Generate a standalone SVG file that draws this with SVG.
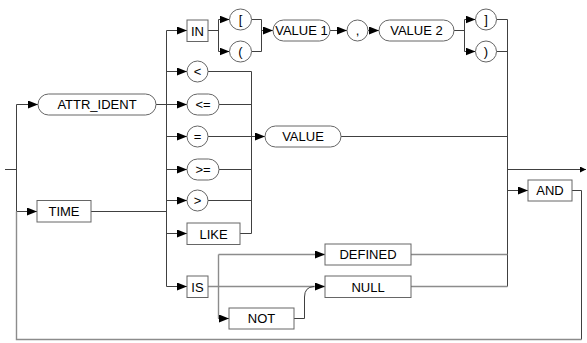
<svg xmlns="http://www.w3.org/2000/svg" width="587" height="343" viewBox="0 0 587 343">
<style>
.n{fill:#fff;stroke:#666;stroke-width:1}
.t{font-family:"Liberation Sans",Arial,sans-serif;font-size:13px;fill:#000;text-anchor:middle}
.c path{fill:none;stroke:#404040;stroke-width:1}
.c path.g{stroke:#8c8c8c;stroke-width:1.4}
.c path.a{marker-end:url(#ah)}
.c path.e{marker-end:url(#ahs)}
</style>
<defs>
<marker id="ah" viewBox="0 0 10 8" refX="10" refY="4" markerWidth="10" markerHeight="8" markerUnits="userSpaceOnUse" orient="auto">
<path d="M0,0 L10,4 L0,8 Z" fill="#000"/>
</marker>
<marker id="ahs" viewBox="0 0 6 6" refX="6" refY="3" markerWidth="6" markerHeight="6" markerUnits="userSpaceOnUse" orient="auto">
<path d="M0,0 L6,3 L0,6 Z" fill="#000"/>
</marker>
</defs>
<rect width="587" height="343" fill="#fff"/>
<g class="c" id="connectors">
<path d="M5,169.5 H16.5"/>
<path d="M16.5,104.5 V211.5"/>
<path class="a" d="M16.5,104.5 H38"/>
<path class="a" d="M16.5,211.5 H37"/>
<path d="M156,104.5 H166.5"/>
<path d="M91,211.5 H166.5"/>
<path d="M166.5,30.5 V286.5"/>
<path class="a" d="M166.5,30.5 H187"/>
<path class="a" d="M166.5,71.5 H187"/>
<path class="a" d="M166.5,104.5 H187"/>
<path class="a" d="M166.5,136.5 H187"/>
<path class="a" d="M166.5,169.5 H187"/>
<path class="a" d="M166.5,200.5 H187"/>
<path class="a" d="M166.5,233.5 H187"/>
<path class="a" d="M166.5,286.5 H187"/>
<path d="M208,30.5 H218.5"/>
<path d="M218.5,19.5 V51.5"/>
<path class="a" d="M218.5,19.5 H229.5"/>
<path class="a" d="M218.5,51.5 H229.5"/>
<path d="M251.5,19.5 H261.5 V51.5 H251.5"/>
<path class="a" d="M261.5,30.5 H273"/>
<path class="a" d="M330,30.5 H347"/>
<path class="a" d="M368,30.5 H379"/>
<path d="M454,30.5 H464.5"/>
<path d="M464.5,19.5 V51.5"/>
<path class="a" d="M464.5,19.5 H475.5"/>
<path class="a" d="M464.5,51.5 H475.5"/>
<path d="M496.5,19.5 H507.5"/>
<path d="M496.5,51.5 H507.5"/>
<path d="M507.5,19.5 V286.5"/>
<path d="M208,71.5 H251.5"/>
<path d="M219,104.5 H251.5"/>
<path class="a" d="M208,136.5 H265"/>
<path d="M219,169.5 H251.5"/>
<path d="M208,200.5 H251.5"/>
<path d="M240,233.5 H251.5"/>
<path d="M251.5,71.5 V233.5"/>
<path d="M341,136.5 H507.5"/>
<path class="e" d="M507.5,169.5 H586"/>
<path class="a" d="M507.5,190.5 H528"/>
<path d="M572,190.5 H581.5 V339.5"/>
<path class="g" d="M581.5,339.5 H16.5 V211.5"/>
<path class="g a" d="M208,286.5 H325"/>
<path class="g" d="M218.5,254.5 V318.5"/>
<path class="g a" d="M218.5,254.5 H325"/>
<path class="a" d="M218.5,318.5 H229"/>
<path d="M294,318.5 H304.5 V297 Q304.5,287 314,286.5"/>
<path class="g" d="M411,254.5 H507.5"/>
<path class="g" d="M411,286.5 H507.5"/>
</g>
<g id="attr_ident"><rect class="n" x="38" y="94" width="118" height="21" rx="10.5"/><text class="t" x="97" y="109">ATTR_IDENT</text></g>
<g id="time"><rect class="n" x="37" y="200.5" width="54" height="21.5"/><text class="t" x="64" y="216">TIME</text></g>
<g id="in"><rect class="n" x="187" y="20" width="21" height="21.5"/><text class="t" x="197.5" y="35.5">IN</text></g>
<g id="lbracket"><ellipse class="n" cx="240.5" cy="19.5" rx="11" ry="10.5"/><text class="t" x="240.5" y="24">[</text></g>
<g id="lparen"><ellipse class="n" cx="240.5" cy="51.5" rx="11" ry="10.5"/><text class="t" x="240.5" y="56">(</text></g>
<g id="value1"><rect class="n" x="273" y="20" width="57" height="21" rx="10.5"/><text class="t" x="301.5" y="35">VALUE 1</text></g>
<g id="comma"><ellipse class="n" cx="357.5" cy="30.5" rx="10.5" ry="10.5"/><text class="t" x="357.5" y="35">,</text></g>
<g id="value2"><rect class="n" x="379" y="20" width="75" height="21" rx="10.5"/><text class="t" x="416.5" y="35">VALUE 2</text></g>
<g id="rbracket"><ellipse class="n" cx="486" cy="19.5" rx="10.5" ry="10.5"/><text class="t" x="486" y="24">]</text></g>
<g id="rparen"><ellipse class="n" cx="486" cy="51.5" rx="10.5" ry="10.5"/><text class="t" x="486" y="56">)</text></g>
<g id="lt"><ellipse class="n" cx="197.5" cy="71.5" rx="10.5" ry="10.5"/><text class="t" x="197.5" y="76">&lt;</text></g>
<g id="le"><rect class="n" x="187" y="94" width="32" height="21" rx="10.5"/><text class="t" x="203" y="109">&lt;=</text></g>
<g id="eq"><ellipse class="n" cx="197.5" cy="136.5" rx="10.5" ry="10.5"/><text class="t" x="197.5" y="141">=</text></g>
<g id="ge"><rect class="n" x="187" y="159" width="32" height="21" rx="10.5"/><text class="t" x="203" y="174">&gt;=</text></g>
<g id="gt"><ellipse class="n" cx="197.5" cy="200.5" rx="10.5" ry="10.5"/><text class="t" x="197.5" y="205">&gt;</text></g>
<g id="like"><rect class="n" x="187" y="223" width="53" height="21.5"/><text class="t" x="213.5" y="238.5">LIKE</text></g>
<g id="value"><rect class="n" x="265" y="126" width="76" height="21" rx="10.5"/><text class="t" x="303" y="141">VALUE</text></g>
<g id="is"><rect class="n" x="187" y="276" width="21" height="21.5"/><text class="t" x="197.5" y="291.5">IS</text></g>
<g id="defined"><rect class="n" x="325" y="244" width="86" height="21"/><text class="t" x="368" y="259">DEFINED</text></g>
<g id="null"><rect class="n" x="325" y="276" width="86" height="21.5"/><text class="t" x="368" y="291.5">NULL</text></g>
<g id="not"><rect class="n" x="229" y="308" width="65" height="21"/><text class="t" x="261.5" y="323">NOT</text></g>
<g id="and"><rect class="n" x="528" y="180" width="44" height="21"/><text class="t" x="550" y="195">AND</text></g>
</svg>
